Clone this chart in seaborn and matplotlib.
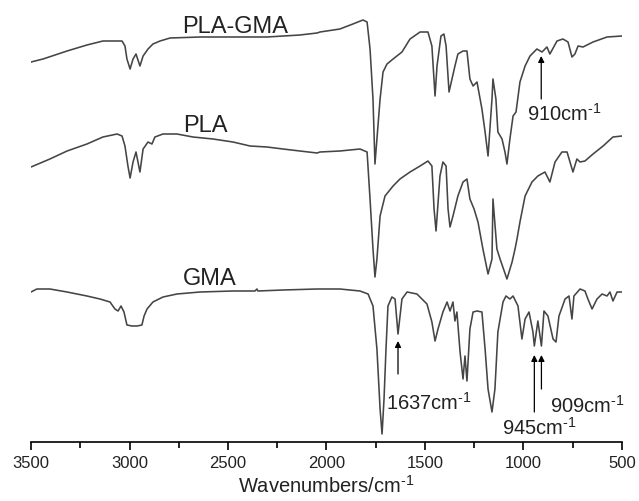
import matplotlib
matplotlib.use("Agg")
import matplotlib.pyplot as plt
import seaborn as sns
import pandas as pd
from matplotlib.ticker import MultipleLocator

# ---------------- data ----------------
# stacked transmittance, arbitrary units
pla_gma_wn = [3500, 3439, 3317, 3216, 3135, 3038, 3023, 3013, 2997, 2982, 2967, 2947, 2931, 2906,
              2881, 2845, 2794, 2642, 2475, 2302, 2135, 2048, 2033, 1932, 1866, 1815, 1794, 1779,
              1764, 1754, 1744, 1728, 1713, 1693, 1662, 1617, 1576, 1525, 1485, 1465, 1449, 1439,
              1419, 1404, 1393, 1378, 1363, 1348, 1333, 1307, 1287, 1272, 1256, 1236, 1211, 1195,
              1180, 1160, 1155, 1140, 1130, 1109, 1094, 1084, 1069, 1053, 1038, 1018, 992, 967,
              932, 906, 881, 866, 830, 800, 774, 754, 739, 723, 698, 647, 576, 500]
pla_gma_t = [380, 383, 391, 397, 401, 401, 396, 383, 373, 383, 388, 376, 386, 393,
             398, 401, 404, 405, 405, 405, 407, 409, 410, 413, 418, 422, 420, 393,
             343, 278, 303, 343, 370, 378, 383, 390, 403, 410, 410, 396, 346, 376,
             406, 408, 396, 350, 363, 376, 388, 391, 391, 363, 356, 360, 333, 310,
             286, 343, 363, 343, 310, 303, 290, 278, 303, 326, 330, 360, 376, 386,
             393, 390, 395, 388, 401, 403, 400, 385, 388, 396, 395, 400, 405, 406]

pla_wn = [3500, 3404, 3317, 3216, 3135, 3063, 3038, 3023, 3008, 2997, 2982, 2967, 2947, 2931,
          2906, 2886, 2871, 2830, 2759, 2678, 2576, 2475, 2388, 2302, 2221, 2135, 2048, 2033,
          1932, 1830, 1794, 1779, 1764, 1754, 1744, 1728, 1703, 1662, 1627, 1576, 1525, 1485,
          1465, 1454, 1444, 1424, 1409, 1393, 1383, 1373, 1358, 1333, 1307, 1287, 1272, 1251,
          1231, 1206, 1180, 1160, 1155, 1135, 1119, 1084, 1058, 1043, 1033, 1018, 992, 957,
          927, 891, 866, 840, 805, 779, 764, 749, 729, 713, 688, 647, 596, 546, 500]
pla_t = [275, 283, 291, 298, 305, 308, 306, 296, 276, 264, 280, 290, 270, 293,
         300, 298, 305, 308, 308, 305, 303, 300, 296, 295, 293, 291, 289, 290,
         291, 293, 290, 243, 193, 165, 183, 226, 246, 256, 263, 270, 276, 281,
         276, 233, 211, 266, 280, 276, 233, 215, 226, 246, 260, 263, 243, 233,
         220, 193, 168, 183, 243, 193, 183, 163, 180, 193, 203, 220, 246, 260,
         266, 270, 260, 280, 290, 290, 280, 270, 283, 280, 281, 288, 296, 305, 306]

gma_wn = [3500, 3470, 3404, 3317, 3216, 3150, 3099, 3074, 3058, 3043, 3028, 3013, 2987, 2962,
          2937, 2926, 2911, 2881, 2830, 2759, 2642, 2475, 2363, 2353, 2348, 2221, 2048, 1932,
          1830, 1789, 1764, 1744, 1728, 1718, 1708, 1698, 1688, 1668, 1652, 1637, 1617, 1591,
          1541, 1490, 1465, 1449, 1434, 1409, 1388, 1373, 1358, 1348, 1338, 1322, 1307, 1297,
          1287, 1272, 1256, 1236, 1211, 1195, 1180, 1160, 1145, 1130, 1104, 1089, 1069, 1053,
          1028, 1008, 992, 972, 952, 945, 927, 909, 896, 876, 850, 835, 820, 789, 769, 754,
          744, 713, 688, 673, 652, 627, 601, 576, 561, 546, 525, 500]
gma_t = [150, 153, 153, 150, 146, 143, 140, 133, 131, 136, 130, 117, 116, 116,
         117, 126, 133, 140, 145, 148, 150, 151, 151, 153, 151, 152, 153, 153,
         151, 148, 136, 93, 33, 8, 43, 93, 136, 145, 143, 108, 143, 150,
         148, 138, 120, 101, 113, 130, 140, 131, 140, 121, 130, 90, 63, 86,
         61, 113, 130, 131, 130, 93, 53, 30, 53, 110, 140, 146, 143, 146,
         136, 103, 123, 130, 110, 96, 121, 96, 131, 126, 103, 100, 126, 143, 146, 123,
         146, 153, 151, 143, 133, 143, 148, 146, 150, 141, 150, 150]

spectrum_names = ["PLA-GMA", "PLA", "GMA"]
marked_peaks = [910, 1637, 945, 909]
marked_labels = [r"910cm$^{\text{-1}}$", r"1637cm$^{\text{-1}}$",
                 r"945cm$^{\text{-1}}$", r"909cm$^{\text{-1}}$"]

# ---------------- figure ----------------
sns.set_theme(style="white")
plt.rcParams["font.family"] = ["Liberation Sans", "DejaVu Sans"]
plt.rcParams["mathtext.fontset"] = "custom"
plt.rcParams["mathtext.rm"] = "Liberation Sans"
plt.rcParams["mathtext.it"] = "Liberation Sans"

fig = plt.figure(figsize=(6.39, 5.02), dpi=100)
ax = fig.add_axes([31 / 639, 59 / 502, 591 / 639, 443 / 502])

frames = [
    pd.DataFrame({"wn": pla_gma_wn, "t": pla_gma_t, "s": spectrum_names[0]}),
    pd.DataFrame({"wn": pla_wn, "t": pla_t, "s": spectrum_names[1]}),
    pd.DataFrame({"wn": gma_wn, "t": gma_t, "s": spectrum_names[2]}),
]
line_color = "#454545"
for df in frames:
    sns.lineplot(data=df, x="wn", y="t", ax=ax, sort=False, estimator=None,
                 color=line_color, lw=1.15)

ax.set_xlim(3500, 500)
ax.set_ylim(0, 443)
ax.set_yticks([])
ax.set_ylabel("")
ax.xaxis.set_major_locator(MultipleLocator(500))
ax.xaxis.set_minor_locator(MultipleLocator(250))
ax.tick_params(axis="x", which="major", direction="out", length=5.5, width=1.2,
               labelsize=12, pad=4, color="black", labelcolor="#222222", bottom=True)
ax.tick_params(axis="x", which="minor", direction="out", length=4, width=1.2,
               color="black", bottom=True)
for side in ["top", "left", "right"]:
    ax.spines[side].set_visible(False)
ax.spines["bottom"].set_color("black")
ax.spines["bottom"].set_linewidth(1.2)
ax.set_xlabel(r"Wavenumbers/cm$^{\text{-1}}$", fontsize=14.5, color="#222222", labelpad=3)

# spectrum names
name_pos = [(2733, 410), (2728, 311), (2728, 158)]
for name, (x, y) in zip(spectrum_names, name_pos):
    ax.text(x, y, name, fontsize=17, ha="left", va="baseline", color="#222222")

# peak markers
arrow_y = [(343, 386), (68, 101), (30, 87), (53, 87)]
label_pos = [(982, 322), (1698, 33), (1109, 8), (866, 30)]
for wn, lab, (y0, y1), (lx, ly) in zip(marked_peaks, marked_labels, arrow_y, label_pos):
    ax.annotate("", xy=(wn, y1), xytext=(wn, y0),
                arrowprops=dict(arrowstyle="-|>", color="black", lw=0.9,
                                mutation_scale=9, shrinkA=0, shrinkB=0))
    ax.text(lx, ly, lab, fontsize=14.5, ha="left", va="baseline", color="#222222")

fig.savefig("out.png", dpi=100)
